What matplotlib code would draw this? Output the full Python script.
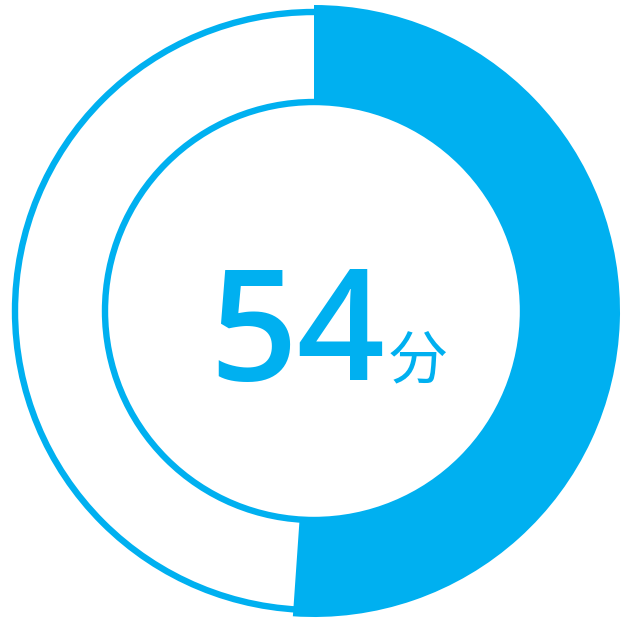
import matplotlib.pyplot as plt
from matplotlib.patches import Circle

# donut data: filled share vs remaining share
shares = [51.1, 48.9]
value_label = "54"
unit_label = "分"

blue = "#00B0F0"

fig = plt.figure(figsize=(6.21, 6.18), dpi=100)
ax = fig.add_axes([0, 0, 1, 1])
ax.set_xlim(0, 621)
ax.set_ylim(618, 0)
ax.set_aspect("equal")
ax.axis("off")

cx, cy = 314, 311

# outline rings (outer and inner)
ax.add_patch(Circle((cx, cy), 299, fill=False, edgecolor=blue, linewidth=4.6))
ax.add_patch(Circle((cx, cy), 209, fill=False, edgecolor=blue, linewidth=4.6))

# filled part of the ring; y axis is flipped so "counterclock" runs clockwise on screen
ax.pie(shares, colors=[blue, "none"], startangle=-90, counterclock=True,
       radius=306, center=(cx, cy),
       wedgeprops=dict(width=98, edgecolor="none", linewidth=0))
ax.set_xlim(0, 621)
ax.set_ylim(618, 0)

ax.text(385, 380, value_label, color=blue, fontsize=111, family="Open Sans",
        fontweight="semibold", ha="right", va="baseline")
ax.text(389, 378, unit_label, color=blue, fontsize=42,
        family=["Noto Sans CJK JP", "DejaVu Sans"], ha="left", va="baseline")

fig.savefig("out.png", dpi=100)
